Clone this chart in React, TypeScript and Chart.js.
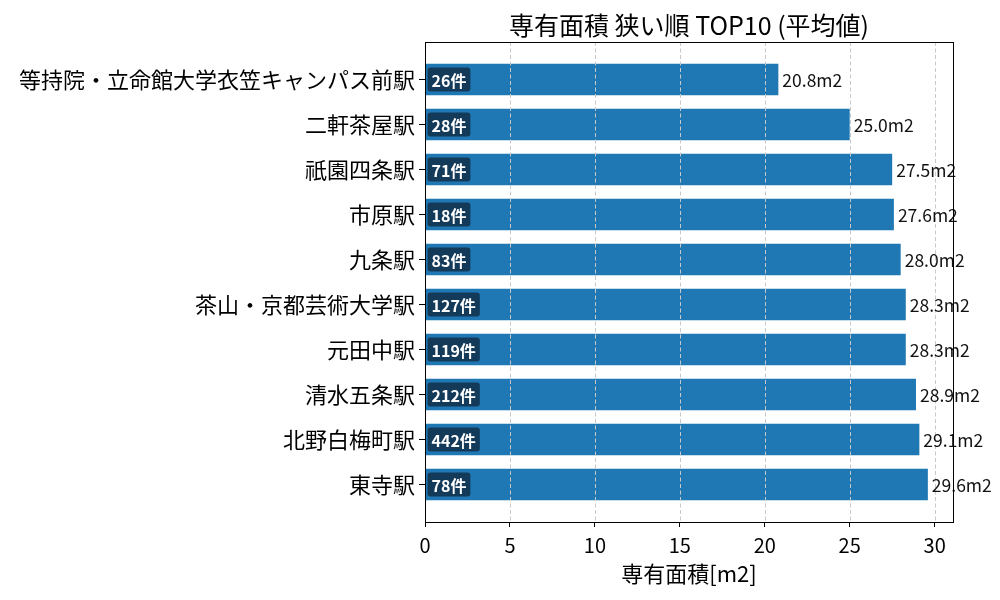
import React, { useEffect, useRef } from "react";
import { Chart, registerables } from "chart.js";

Chart.register(...registerables);

// Stations ordered from smallest to largest average floor area
const stations = [
  "等持院・立命館大学衣笠キャンパス前駅",
  "二軒茶屋駅",
  "祇園四条駅",
  "市原駅",
  "九条駅",
  "茶山・京都芸術大学駅",
  "元田中駅",
  "清水五条駅",
  "北野白梅町駅",
  "東寺駅",
];
const avgArea = [20.8, 25.0, 27.5, 27.6, 28.0, 28.3, 28.3, 28.9, 29.1, 29.6];
const listingCounts = [26, 28, 71, 18, 83, 127, 119, 212, 442, 78];
const xTicks = [0, 5, 10, 15, 20, 25, 30];

const chartTitle = "専有面積 狭い順 TOP10 (平均値)";
const xAxisTitle = "専有面積[m2]";

const FONT = "'Noto Sans CJK JP', 'Noto Sans', sans-serif";
const BAR_COLOR = "#1f77b4";
const BADGE_COLOR = "#143a5a";

const overlayPlugin = {
  id: "overlay",
  afterDatasetsDraw(chart: any) {
    const { ctx, chartArea, scales } = chart;
    const xs = scales.x;
    ctx.save();

    // dashed vertical grid on top of the bars
    ctx.strokeStyle = "#c8c8c8";
    ctx.lineWidth = 1;
    ctx.setLineDash([4, 2.5]);
    xTicks.forEach((t) => {
      if (t === 0) return;
      const px = Math.round(xs.getPixelForValue(t)) + 0.5;
      ctx.beginPath();
      ctx.moveTo(px, chartArea.top);
      ctx.lineTo(px, chartArea.bottom);
      ctx.stroke();
    });
    ctx.setLineDash([]);

    const meta = chart.getDatasetMeta(0);
    meta.data.forEach((bar: any, i: number) => {
      // listing count badge at the start of the bar
      const label = `${listingCounts[i]}件`;
      ctx.font = `bold 16px ${FONT}`;
      const tw = ctx.measureText(label).width;
      const bx = bar.base + 2;
      const bh = 24;
      const by = bar.y - bh / 2;
      const bw = tw + 8;
      ctx.fillStyle = BADGE_COLOR;
      ctx.beginPath();
      (ctx as any).roundRect(bx, by, bw, bh, 3);
      ctx.fill();
      ctx.fillStyle = "#ffffff";
      ctx.textAlign = "left";
      ctx.textBaseline = "middle";
      ctx.fillText(label, bx + 4, bar.y + 1);

      // value label at the end of the bar
      ctx.font = `17.5px ${FONT}`;
      ctx.fillStyle = "#111111";
      ctx.fillText(`${avgArea[i].toFixed(1)}m2`, bar.x + 4, bar.y + 1);
    });

    // plot frame
    ctx.strokeStyle = "#000000";
    ctx.lineWidth = 1;
    ctx.strokeRect(
      Math.round(chartArea.left) + 0.5,
      Math.round(chartArea.top) + 0.5,
      Math.round(chartArea.right - chartArea.left),
      Math.round(chartArea.bottom - chartArea.top)
    );

    // titles
    const cx = (chartArea.left + chartArea.right) / 2;
    ctx.fillStyle = "#000000";
    ctx.textAlign = "center";
    ctx.textBaseline = "middle";
    ctx.font = `25px ${FONT}`;
    ctx.fillText(chartTitle, cx, 25);
    ctx.font = `22px ${FONT}`;
    ctx.fillText(xAxisTitle, cx, 574);
    ctx.restore();
  },
};

export default function App() {
  const canvasRef = useRef<HTMLCanvasElement>(null);

  useEffect(() => {
    if (!canvasRef.current) return;
    const chart = new Chart(canvasRef.current, {
      type: "bar",
      data: {
        datasets: [
          {
            data: avgArea.map((v, i) => ({ x: v, y: i })),
            backgroundColor: BAR_COLOR,
            borderWidth: 0,
            barPercentage: 0.7,
            categoryPercentage: 1,
          },
        ],
      },
      options: {
        indexAxis: "y",
        animation: false,
        responsive: false,
        maintainAspectRatio: false,
        layout: { padding: { top: 42, right: 47, bottom: 0, left: 0 } },
        plugins: {
          legend: { display: false },
          title: { display: false },
          tooltip: { enabled: false },
        },
        scales: {
          x: {
            type: "linear",
            min: 0,
            max: 31.08,
            offset: false,
            afterBuildTicks: (scale: any) => {
              scale.ticks = xTicks.map((v) => ({ value: v }));
            },
            afterFit: (scale: any) => {
              scale.height = 78;
            },
            grid: {
              drawOnChartArea: false,
              offset: false,
              color: "#000000",
              tickLength: 5,
            },
            border: { display: false },
            ticks: {
              color: "#000000",
              padding: 6,
              font: { family: FONT, size: 20 },
            },
          },
          y: {
            type: "linear",
            reverse: true,
            offset: false,
            min: -0.835,
            max: 9.835,
            afterBuildTicks: (scale: any) => {
              scale.ticks = stations.map((_, i) => ({ value: i }));
            },
            afterFit: (scale: any) => {
              scale.width = 425;
            },
            grid: {
              drawOnChartArea: false,
              offset: false,
              color: "#000000",
              tickLength: 6,
            },
            border: { display: false },
            ticks: {
              color: "#000000",
              padding: 4,
              font: { family: FONT, size: 22 },
              callback: (v: any) => stations[v as number] ?? "",
            },
          },
        },
      },
      plugins: [overlayPlugin],
    } as any);
    return () => chart.destroy();
  }, []);

  return (
    <div style={{ position: "absolute", left: 0, top: 0, width: 1000, height: 600, background: "#fff" }}>
      <canvas ref={canvasRef} width={1000} height={600} style={{ width: 1000, height: 600 }} />
    </div>
  );
}
